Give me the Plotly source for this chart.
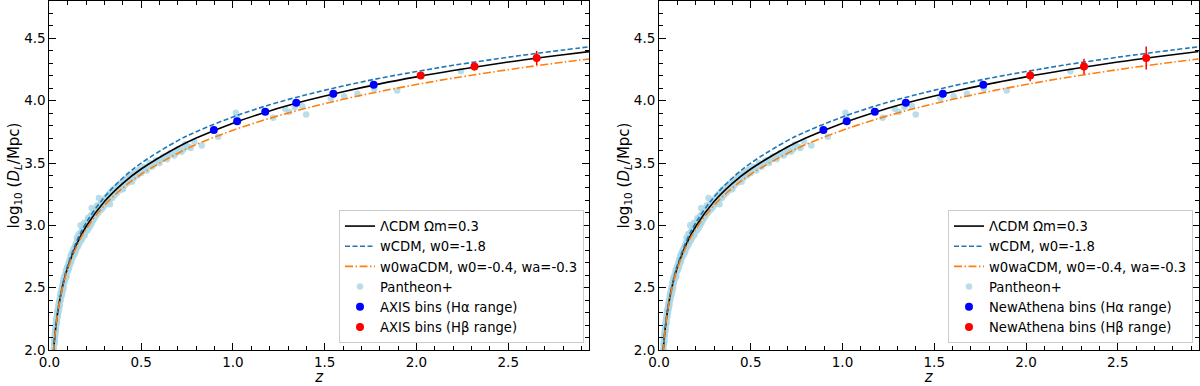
import plotly.graph_objects as go

# ---------------- data ----------------
z_model = [0.01, 0.015, 0.02, 0.025, 0.03, 0.04, 0.05, 0.075, 0.1, 0.15, 0.2, 0.3, 0.4,
           0.5, 0.7, 0.8, 1.0, 1.2, 1.4, 1.6, 1.8, 2.0, 2.2, 2.5, 2.6, 2.8, 2.95]
lcdm = [1.635, 1.813, 1.939, 2.037, 2.119, 2.246, 2.347, 2.531, 2.663, 2.853, 2.991, 3.191, 3.337,
        3.452, 3.629, 3.701, 3.820, 3.918, 4.001, 4.072, 4.135, 4.191, 4.242, 4.310, 4.330, 4.369, 4.396]
wcdm = [1.637, 1.816, 1.943, 2.042, 2.124, 2.253, 2.356, 2.544, 2.679, 2.876, 3.020, 3.228, 3.380,
        3.499, 3.680, 3.751, 3.870, 3.967, 4.048, 4.118, 4.180, 4.234, 4.284, 4.349, 4.369, 4.407, 4.434]
w0wa = [1.634, 1.811, 1.936, 2.034, 2.114, 2.241, 2.340, 2.521, 2.651, 2.836, 2.969, 3.161, 3.300,
        3.410, 3.579, 3.648, 3.763, 3.859, 3.940, 4.011, 4.074, 4.130, 4.181, 4.249, 4.270, 4.309, 4.337]

pan_z = [0.024, 0.025, 0.026, 0.027, 0.028, 0.029, 0.030, 0.031, 0.032, 0.033, 0.034, 0.035, 0.036,
         0.037, 0.038, 0.039, 0.040, 0.041, 0.042, 0.043, 0.044, 0.045, 0.046, 0.048, 0.050, 0.052,
         0.054, 0.056, 0.058, 0.060, 0.062, 0.064, 0.066, 0.068, 0.070, 0.072, 0.074, 0.076, 0.078,
         0.080, 0.083, 0.086, 0.089, 0.092, 0.095, 0.098, 0.100, 0.103, 0.106, 0.109, 0.112, 0.115,
         0.118, 0.121, 0.124, 0.127, 0.130, 0.133, 0.136, 0.139, 0.142, 0.145, 0.148, 0.151, 0.154,
         0.157, 0.160, 0.163, 0.166, 0.169, 0.172, 0.175, 0.178, 0.181, 0.184, 0.187, 0.190, 0.193,
         0.196, 0.199, 0.202, 0.206, 0.210, 0.214, 0.218, 0.222, 0.226, 0.230, 0.234, 0.238, 0.242,
         0.246, 0.250, 0.255, 0.260, 0.265, 0.270, 0.275, 0.280, 0.285, 0.290, 0.295, 0.300, 0.306,
         0.312, 0.318, 0.324, 0.330, 0.336, 0.342, 0.348, 0.354, 0.360, 0.367, 0.374, 0.381, 0.388,
         0.395, 0.402, 0.410, 0.418, 0.426, 0.434, 0.442, 0.450, 0.460, 0.470, 0.480, 0.490, 0.500,
         0.515, 0.530, 0.545, 0.560, 0.580, 0.600, 0.620, 0.640, 0.660, 0.680, 0.700, 0.720, 0.740,
         0.760, 0.790, 0.830, 0.170, 0.230, 0.920, 1.016, 1.020, 1.219, 1.285, 1.306, 1.337, 1.378,
         1.399, 1.533, 1.605, 1.678, 1.770, 1.895, 2.242,
         0.0245, 0.0265, 0.0285, 0.0305, 0.0325, 0.0345, 0.0355, 0.0375, 0.0395, 0.0415, 0.0435,
         0.0455, 0.047, 0.049, 0.051, 0.053, 0.055, 0.057, 0.059, 0.061, 0.063, 0.065, 0.067, 0.069,
         0.071, 0.073, 0.075, 0.077, 0.079, 0.082, 0.085, 0.088, 0.091, 0.094, 0.097, 0.101, 0.104,
         0.107, 0.110, 0.113, 0.116, 0.119, 0.122, 0.125, 0.128, 0.131, 0.134, 0.137, 0.140, 0.143,
         0.146, 0.149, 0.152, 0.155, 0.158, 0.161, 0.164, 0.167, 0.171, 0.174, 0.177, 0.180, 0.183,
         0.186, 0.189, 0.192, 0.195, 0.198, 0.204, 0.208, 0.212, 0.216, 0.220, 0.224, 0.228, 0.232,
         0.236, 0.240, 0.244, 0.248, 0.252, 0.258, 0.262, 0.268, 0.272, 0.278, 0.282, 0.288, 0.292,
         0.298, 0.303, 0.309, 0.315, 0.321, 0.327, 0.333, 0.339, 0.345, 0.351, 0.357, 0.363, 0.370,
         0.378, 0.385, 0.392, 0.399, 0.406, 0.414, 0.422, 0.430, 0.438, 0.446, 0.455, 0.465, 0.475,
         0.485, 0.495, 0.520, 0.550, 0.570, 0.590, 0.610, 0.630, 0.650, 0.690, 0.710, 0.730, 0.750,
         0.770, 0.150, 0.190, 0.260, 0.160, 0.210, 0.270, 0.450, 0.400, 0.330]
pan_v = [2.01, 2.04, 2.06, 2.05, 2.10, 2.08, 2.12, 2.11, 2.16, 2.15, 2.19, 2.17, 2.21,
         2.20, 2.24, 2.22, 2.26, 2.24, 2.28, 2.26, 2.30, 2.28, 2.32, 2.31, 2.36, 2.35,
         2.39, 2.38, 2.42, 2.41, 2.46, 2.44, 2.48, 2.46, 2.51, 2.49, 2.54, 2.52, 2.57,
         2.54, 2.59, 2.57, 2.62, 2.60, 2.65, 2.63, 2.67, 2.65, 2.70, 2.68, 2.73, 2.71,
         2.76, 2.73, 2.78, 2.75, 2.80, 2.77, 2.82, 2.79, 2.84, 2.81, 2.86, 2.83, 2.88,
         2.85, 2.90, 2.86, 2.91, 2.88, 2.94, 2.89, 2.96, 2.91, 2.97, 2.93, 2.99, 2.94,
         3.00, 2.95, 3.02, 2.97, 3.04, 2.99, 3.06, 3.01, 3.08, 3.03, 3.09, 3.04, 3.11,
         3.06, 3.12, 3.08, 3.14, 3.10, 3.16, 3.12, 3.18, 3.13, 3.20, 3.15, 3.21, 3.17,
         3.23, 3.19, 3.25, 3.21, 3.27, 3.22, 3.29, 3.24, 3.30, 3.26, 3.32, 3.28, 3.34,
         3.30, 3.35, 3.32, 3.37, 3.34, 3.39, 3.36, 3.41, 3.38, 3.43, 3.40, 3.45, 3.42,
         3.47, 3.44, 3.50, 3.47, 3.52, 3.50, 3.55, 3.53, 3.58, 3.56, 3.61, 3.59, 3.65,
         3.63, 3.67, 3.64, 3.00, 3.14, 3.71, 3.904, 3.87, 3.864, 3.936, 3.91, 3.95, 3.955,
         3.89, 4.02, 4.035, 4.056, 4.096, 4.082, 4.237,
         2.00, 2.08, 2.07, 2.14, 2.13, 2.20, 2.16, 2.23, 2.25, 2.22, 2.31,
         2.27, 2.33, 2.30, 2.37, 2.33, 2.40, 2.36, 2.44, 2.40, 2.45, 2.43, 2.49, 2.45,
         2.52, 2.48, 2.55, 2.50, 2.58, 2.55, 2.60, 2.58, 2.64, 2.59, 2.66, 2.64, 2.69,
         2.66, 2.72, 2.69, 2.75, 2.71, 2.77, 2.74, 2.79, 2.76, 2.81, 2.77, 2.83, 2.79,
         2.85, 2.82, 2.87, 2.83, 2.89, 2.85, 2.90, 2.87, 2.92, 2.88, 2.94, 2.90, 2.96,
         2.92, 2.97, 2.92, 2.99, 2.96, 3.00, 2.96, 3.03, 2.98, 3.05, 3.00, 3.07, 3.02,
         3.08, 3.05, 3.10, 3.07, 3.10, 3.09, 3.13, 3.11, 3.15, 3.14, 3.16, 3.17, 3.18,
         3.19, 3.19, 3.21, 3.20, 3.23, 3.22, 3.25, 3.24, 3.27, 3.26, 3.28, 3.29, 3.30,
         3.31, 3.32, 3.33, 3.33, 3.36, 3.35, 3.38, 3.36, 3.40, 3.39, 3.40, 3.41, 3.42,
         3.43, 3.44, 3.46, 3.48, 3.49, 3.52, 3.53, 3.55, 3.56, 3.58, 3.60, 3.61, 3.63,
         3.62, 2.90, 3.02, 3.16, 2.93, 3.06, 3.22, 3.35, 3.29, 3.17]

ha_z = [0.896, 1.023, 1.176, 1.345, 1.547, 1.767]
ha_v = [3.766, 3.835, 3.912, 3.984, 4.056, 4.128]
hb_z = [2.023, 2.316, 2.655]
hb_v = [4.202, 4.274, 4.343]
axis_ha_err = [0.008, 0.008, 0.008, 0.008, 0.008, 0.010]
axis_hb_err = [0.027, 0.032, 0.056]
nath_ha_err = [0.010, 0.010, 0.012, 0.012, 0.015, 0.018]
nath_hb_err = [0.045, 0.062, 0.092]

panels = ["AXIS", "NewAthena"]
x_ticks = [0.0, 0.5, 1.0, 1.5, 2.0, 2.5]
y_ticks = [2.0, 2.5, 3.0, 3.5, 4.0, 4.5]

FONT = "DejaVu Sans"
fig = go.Figure()

errs = [(axis_ha_err, axis_hb_err), (nath_ha_err, nath_hb_err)]
for i, name in enumerate(panels):
    xa = "x" if i == 0 else "x2"
    ya = "y" if i == 0 else "y2"
    lg = "legend" if i == 0 else "legend2"
    fig.add_trace(go.Scatter(x=pan_z, y=pan_v, mode="markers", name="Pantheon+",
                             marker=dict(color="rgba(173,216,230,0.85)", size=6.5, line=dict(width=0)),
                             xaxis=xa, yaxis=ya, legend=lg, legendrank=4))
    fig.add_trace(go.Scatter(x=z_model, y=lcdm, mode="lines", name="ΛCDM Ωm=0.3",
                             line=dict(color="black", width=1.6, shape="spline"),
                             xaxis=xa, yaxis=ya, legend=lg, legendrank=1))
    fig.add_trace(go.Scatter(x=z_model, y=wcdm, mode="lines", name="wCDM, w0=-1.8",
                             line=dict(color="#1f77b4", width=1.6, dash="5px,2.5px", shape="spline"),
                             xaxis=xa, yaxis=ya, legend=lg, legendrank=2))
    fig.add_trace(go.Scatter(x=z_model, y=w0wa, mode="lines", name="w0waCDM, w0=-0.4, wa=-0.3",
                             line=dict(color="#ff7f0e", width=1.6, dash="8px,2.5px,1.5px,2.5px", shape="spline"),
                             xaxis=xa, yaxis=ya, legend=lg, legendrank=3))
    ea, eb = errs[i]
    fig.add_trace(go.Scatter(x=ha_z, y=ha_v, mode="markers", name=f"{name} bins (Hα range)",
                             marker=dict(color="blue", size=8),
                             error_y=dict(type="data", array=ea, color="blue", thickness=1.5, width=0),
                             xaxis=xa, yaxis=ya, legend=lg, legendrank=5))
    fig.add_trace(go.Scatter(x=hb_z, y=hb_v, mode="markers", name=f"{name} bins (Hβ range)",
                             marker=dict(color="red", size=8),
                             error_y=dict(type="data", array=eb, color="red", thickness=1.5, width=0),
                             xaxis=xa, yaxis=ya, legend=lg, legendrank=6))

def xax(domain, anchor):
    return dict(domain=domain, anchor=anchor, range=[0, 2.94], tickvals=x_ticks, automargin=False,
                ticktext=[f"{v:.1f}" for v in x_ticks], ticks="inside", ticklen=7, tickwidth=1,
                tickcolor="black", mirror="allticks", showline=True, linecolor="black", linewidth=1,
                showgrid=False, zeroline=False, tickfont=dict(family=FONT, size=13.5, color="black"),
                minor=dict(ticks="inside", ticklen=4, tickwidth=1, tickcolor="black", dtick=0.1, tick0=0,
                           showgrid=False),
                title=dict(text="<i>z</i>", font=dict(family=FONT, size=15, color="black"), standoff=2))

def yax(domain, anchor):
    return dict(domain=domain, anchor=anchor, range=[2.0, 4.8], tickvals=y_ticks, automargin=False,
                ticktext=[f"{v:.1f}" for v in y_ticks], ticks="inside", ticklen=7, tickwidth=1,
                tickcolor="black", mirror="allticks", showline=True, linecolor="black", linewidth=1,
                showgrid=False, zeroline=False, tickfont=dict(family=FONT, size=13.5, color="black"),
                minor=dict(ticks="inside", ticklen=4, tickwidth=1, tickcolor="black", dtick=0.1, tick0=0,
                           showgrid=False),
                title=dict(text="log<sub>10</sub> (<i>D<sub>L</sub></i>/Mpc)",
                           font=dict(family=FONT, size=15, color="black"), standoff=0))

ydom = [36 / 386, 385 / 386]
legend_style = dict(bgcolor="rgba(255,255,255,0.85)", bordercolor="#cccccc", borderwidth=1,
                    font=dict(family=FONT, size=13.2, color="black"), xanchor="right", yanchor="bottom",
                    tracegroupgap=0, itemwidth=30)

fig.update_layout(
    width=1200, height=386, margin=dict(l=0, r=0, t=0, b=0),
    paper_bgcolor="white", plot_bgcolor="white",
    font=dict(family=FONT, color="black"),
    xaxis=xax([49.4 / 1200, 589 / 1200], "y"),
    yaxis=yax(ydom, "x"),
    xaxis2=xax([659 / 1200, 1198.5 / 1200], "y2"),
    yaxis2=yax(ydom, "x2"),
    legend=dict(x=584 / 1200, y=43 / 386, **legend_style),
    legend2=dict(x=1193 / 1200, y=43 / 386, **legend_style),
    showlegend=True,
)

fig.write_html("out.html", config={"displayModeBar": False},
               post_script="document.body.style.margin='0px';document.body.style.overflow='hidden';")
